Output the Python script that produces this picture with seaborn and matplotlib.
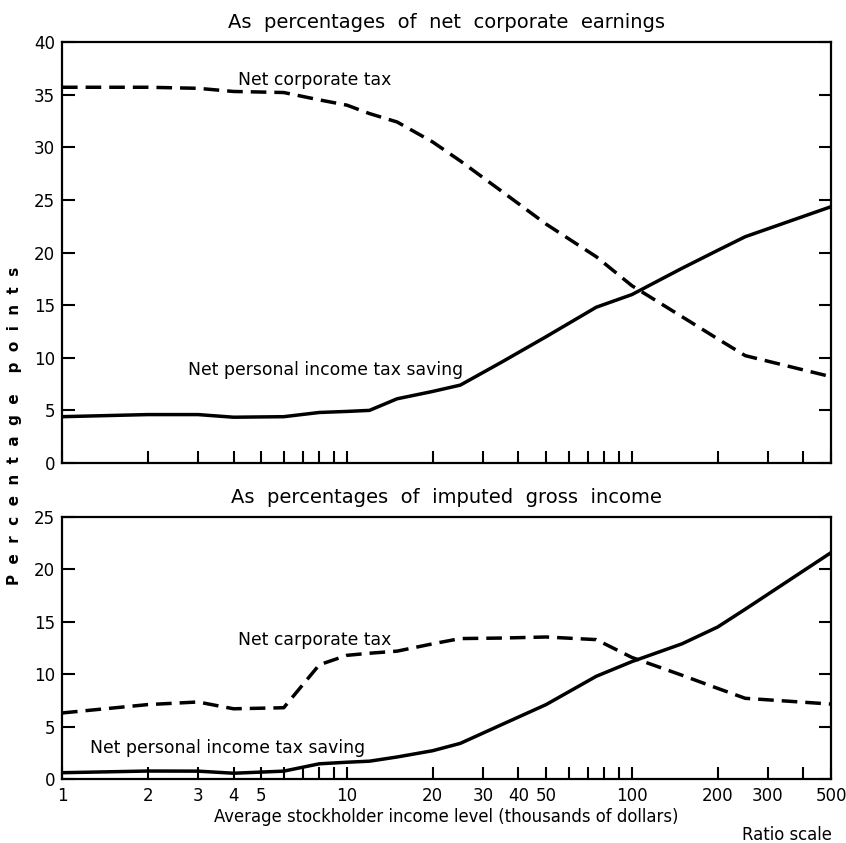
import matplotlib
matplotlib.use("Agg")
import matplotlib.pyplot as plt
import seaborn as sns
import pandas as pd
import numpy as np

# ---- data ----
income = [1, 2, 3, 4, 6, 8, 10, 12, 15, 20, 25, 35, 50, 75, 100, 150, 200, 250, 500]

top_corporate = [35.7, 35.7, 35.6, 35.3, 35.2, 34.5, 34.0, 33.2, 32.4, 30.5, 28.7,
                 25.8, 22.7, 19.6, 16.85, 13.9, 11.8, 10.2, 8.2]
top_personal = [4.4, 4.6, 4.6, 4.35, 4.4, 4.8, 4.9, 5.0, 6.1, 6.8, 7.4,
                9.6, 12.0, 14.8, 16.0, 18.5, 20.2, 21.5, 24.35]

bot_corporate = [6.3, 7.1, 7.35, 6.7, 6.8, 10.9, 11.8, 12.0, 12.2, 12.9, 13.4,
                 13.45, 13.55, 13.3, 11.6, 9.9, 8.65, 7.7, 7.15]
bot_personal = [0.6, 0.76, 0.75, 0.55, 0.75, 1.45, 1.6, 1.7, 2.1, 2.7, 3.4,
                5.2, 7.1, 9.8, 11.2, 12.9, 14.5, 16.2, 21.6]

tick_positions = [1, 2, 3, 4, 5, 6, 7, 8, 9, 10, 20, 30, 40, 50, 60, 70, 80, 90,
                  100, 200, 300, 400, 500]
tick_labels = ["1", "2", "3", "4", "5", "", "", "", "", "10", "20", "30", "40", "50",
               "", "", "", "", "100", "200", "300", "", "500"]

title_top = "As  percentages  of  net  corporate  earnings"
title_bot = "As  percentages  of  imputed  gross  income"
lab_corp_top = "Net corporate tax"
lab_corp_bot = "Net carporate tax"
lab_pers = "Net personal income tax saving"
xlabel = "Average stockholder income level (thousands of dollars)"
ylabel = "  ".join("Percentage") + "    " + "  ".join("points")

sns.set_style("white")
plt.rcParams["font.family"] = ["DejaVu Sans"]
plt.rcParams["text.color"] = "black"
plt.rcParams["xtick.color"] = "black"
plt.rcParams["ytick.color"] = "black"
plt.rcParams["axes.labelcolor"] = "black"

W, H = 846, 843
fig = plt.figure(figsize=(W / 100, H / 100), dpi=100)

def px_axes(left, top, right, bottom):
    return fig.add_axes([left / W, 1 - bottom / H, (right - left) / W, (bottom - top) / H])

ax1 = px_axes(62, 42, 831, 463)
ax2 = px_axes(62, 517, 831, 779)

def make_df(corp, pers):
    return pd.DataFrame({
        "income": income * 2,
        "value": corp + pers,
        "series": ["corp"] * len(income) + ["pers"] * len(income),
    })

dash_map = {"corp": (4.5, 2.3), "pers": ""}

for ax, corp, pers, ymax in [(ax1, top_corporate, top_personal, 40),
                             (ax2, bot_corporate, bot_personal, 25)]:
    sns.lineplot(data=make_df(corp, pers), x="income", y="value", style="series",
                 dashes=dash_map, color="black", linewidth=2.5, legend=False,
                 ax=ax, sort=False)
    ax.set_xscale("log")
    ax.set_xlim(1, 500)
    ax.set_ylim(0, ymax)
    ax.set_xticks(tick_positions)
    ax.xaxis.set_minor_locator(matplotlib.ticker.NullLocator())
    ax.set_yticks(np.arange(0, ymax + 1, 5))
    ax.tick_params(axis="x", which="major", direction="in", length=9, width=1.5,
                   labelsize=12, pad=6, bottom=True, top=False, colors="black")
    ax.tick_params(axis="y", which="major", direction="in", length=9, width=1.5,
                   labelsize=12, pad=5, left=True, right=True, colors="black")
    for s in ax.spines.values():
        s.set_linewidth(1.6)
        s.set_color("black")
    ax.set_xlabel("")
    ax.set_ylabel("")

ax1.set_xticklabels([""] * len(tick_positions))
ax2.set_xticklabels(tick_labels)

ax1.set_title(title_top, fontsize=14, pad=10, color="black")
ax2.set_title(title_bot, fontsize=14, pad=10, color="black")

ax1.text(4.15, 36.4, lab_corp_top, fontsize=12.4, va="center", ha="left")
ax1.text(2.77, 8.8, lab_pers, fontsize=12.4, va="center", ha="left")
ax2.text(4.15, 13.3, lab_corp_bot, fontsize=12.4, va="center", ha="left")
ax2.text(1.25, 2.95, lab_pers, fontsize=12.4, va="center", ha="left")

fig.text(446 / W, 1 - 817 / H, xlabel, fontsize=11.9, ha="center", va="center")
fig.text(832 / W, 1 - 835 / H, "Ratio scale", fontsize=11.9, ha="right", va="center")
fig.text(15 / W, 1 - 426 / H, ylabel, fontsize=10.9, fontweight="bold",
         rotation=90, ha="center", va="center")

fig.savefig("out.png", dpi=100, facecolor="white")
